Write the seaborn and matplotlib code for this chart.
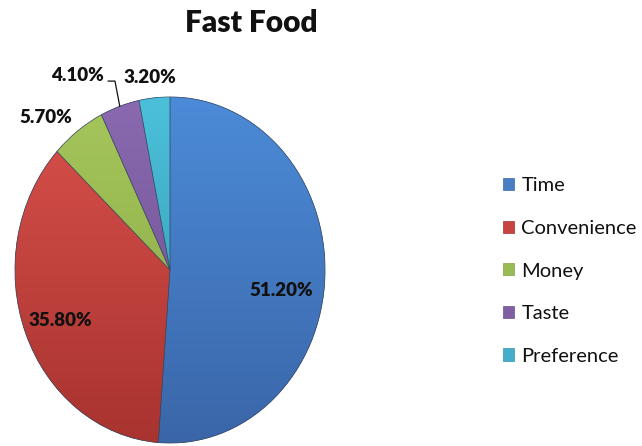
import numpy as np
import matplotlib
matplotlib.use("Agg")
import matplotlib.pyplot as plt
import seaborn as sns
from matplotlib.colors import LinearSegmentedColormap, to_rgb
from matplotlib.patches import Patch, Wedge

sns.set_theme(style="white")
plt.rcParams["font.family"] = ["Lato", "DejaVu Sans"]

# Survey data: reasons for choosing fast food
categories = ["Time", "Convenience", "Money", "Taste", "Preference"]
shares = [51.2, 35.8, 5.7, 4.1, 3.2]
value_labels = ["51.20%", "35.80%", "5.70%", "4.10%", "3.20%"]

# Office-style palette: (top shade, bottom shade)
light = ["#4C8BD8", "#DA514C", "#A6C75C", "#8A69B0", "#4CC0DA"]
dark = ["#3A66A8", "#A8332F", "#86A343", "#6A4E8E", "#2F95AE"]
base = ["#4A7EC4", "#C84440", "#99BB55", "#7F5FA2", "#45AECB"]

fig = plt.figure(figsize=(6.42, 4.46), dpi=100)
ax = fig.add_axes([15 / 642, 3 / 446, 310 / 642, 346 / 446])

wedges, _ = ax.pie(shares, startangle=90, counterclock=False,
                   colors=base, radius=1.0,
                   wedgeprops=dict(edgecolor="#3d4f66", linewidth=0.6))

# vertical shading inside each slice
grad = np.linspace(0, 1, 256).reshape(-1, 1)
for w, lo, hi in zip(wedges, light, dark):
    cmap = LinearSegmentedColormap.from_list("shade", [to_rgb(hi), to_rgb(lo)])
    im = ax.imshow(grad, extent=[-1, 1, -1, 1], origin="lower", cmap=cmap,
                   aspect="auto", zorder=w.get_zorder() + 0.1,
                   interpolation="bilinear")
    im.set_clip_path(w)
    # thin outline on top of the shading
    ax.add_patch(Wedge(w.center, w.r, w.theta1, w.theta2,
                       facecolor="none", edgecolor="#33455e",
                       linewidth=0.5, alpha=0.6,
                       zorder=w.get_zorder() + 0.2))

ax.set_xlim(-1, 1)
ax.set_ylim(-1, 1)
ax.set_aspect("auto")
ax.axis("off")

# value labels placed around the pie
label_pos = [(0.72, -0.12), (-0.71, -0.29), (-0.80, 0.884),
             (-0.60, 1.127), (-0.13, 1.11)]
for (x, y), txt in zip(label_pos, value_labels):
    ax.text(x, y, txt, ha="center", va="center", fontsize=13.5,
            fontweight="heavy", color="#111111", clip_on=False)

# leader line for the Taste slice, ending at the slice's mid-angle on the rim
t = wedges[3]
mid = np.deg2rad((t.theta1 + t.theta2) / 2)
ex, ey = np.cos(mid), np.sin(mid)
ax.plot([-0.40, -0.355, ex], [1.092, 1.092, ey], color="#111111",
        linewidth=0.9, clip_on=False, zorder=10)

fig.text(251 / 642, 1 - 23 / 446, "Fast Food", ha="center", va="center",
         fontsize=21.5, fontweight="heavy", color="#111111")

handles = [Patch(facecolor=c, edgecolor=d, linewidth=0.5) for c, d in zip(base, dark)]
leg = fig.legend(handles, categories, loc="center left",
                 bbox_to_anchor=(485 / 642, 1 - 271 / 446), frameon=False,
                 fontsize=14.5, handlelength=0.55, handleheight=0.55,
                 handletextpad=0.35, labelspacing=1.27)
for txt in leg.get_texts():
    txt.set_color("#111111")

fig.savefig("out.png", dpi=100)
